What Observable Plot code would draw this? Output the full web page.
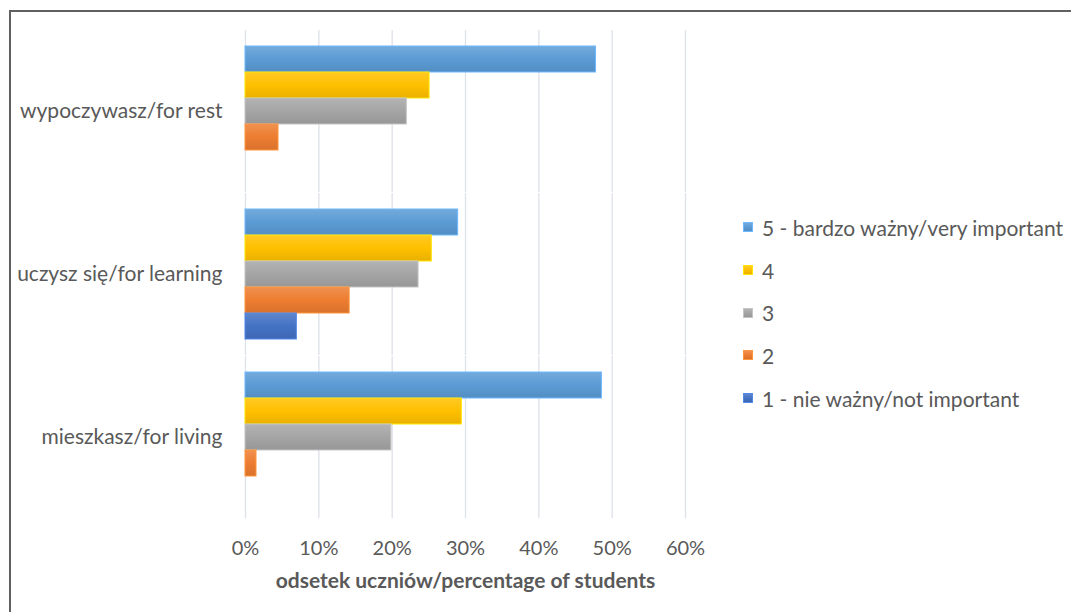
<!DOCTYPE html>
<html>
<head>
<meta charset="utf-8">
<script src="https://cdn.jsdelivr.net/npm/d3@7"></script>
<script src="https://cdn.jsdelivr.net/npm/@observablehq/plot@0.6"></script>
<style>
  html, body { margin: 0; padding: 0; background: #fff; }
  #wrap { position: relative; width: 1071px; height: 612px; overflow: hidden; font-family: Lato, "Open Sans", sans-serif; }
  #chart { position: absolute; left: 0; top: 0; }
  #frame { position: absolute; left: 9px; top: 10px; right: -4px; bottom: -4px; border-top: 2px solid #606060; border-left: 2px solid #606060; pointer-events: none; }
  #legend { position: absolute; left: 743px; top: 206px; color: #595959; font-size: 21px; }
  #legend .item { display: flex; align-items: center; height: 42.7px; }
  #legend .sw { width: 10px; height: 10px; margin-right: 9px; box-sizing: border-box; }
  [aria-label="x-axis label"] text { font-weight: bold; font-size: 21px; }
  [aria-label="fy-axis tick label"] text { font-size: 21px; }
</style>
</head>
<body>
<div id="wrap">
  <div id="chart"></div>
  <div id="legend"></div>
  <div id="frame"></div>
</div>
<script>
const categories = ["wypoczywasz/for rest", "uczysz się/for learning", "mieszkasz/for living"];
const series = ["5 - bardzo ważny/very important", "4", "3", "2", "1 - nie ważny/not important"];
const values5 = [47.8, 29.0, 48.6];
const values4 = [25.1, 25.4, 29.5];
const values3 = [22.0, 23.6, 19.9];
const values2 = [4.5, 14.2, 1.5];
const values1 = [0, 7.0, 0];
const ticks = [0, 10, 20, 30, 40, 50, 60];
const colors = ["#5b9bd5", "#ffc000", "#a5a5a5", "#ed7d31", "#4472c4"];
const xLabel = "odsetek uczniów/percentage of students";

const seriesValues = [values5, values4, values3, values2, values1];
const data = categories.flatMap((c, i) =>
  series.map((s, j) => ({category: c, series: s, key: j, value: seriesValues[j][i]}))
);

const plot = Plot.plot({
  width: 1071,
  height: 612,
  marginLeft: 245,
  marginRight: 386,
  marginTop: 43,
  marginBottom: 108,
  x: {domain: [0, 60]},
  y: {domain: series, axis: null, padding: 0},
  fy: {domain: categories, paddingInner: 0.18, paddingOuter: 0},
  color: {type: "identity"},
  style: {fontFamily: "Lato, 'Open Sans', sans-serif", fontSize: "20px", color: "#595959", background: "transparent"},
  marks: [
    Plot.ruleX(ticks, {x: d => d, stroke: "#dde1e8", strokeWidth: 1.3, insetTop: -14, insetBottom: -14}),
    Plot.barX(data.filter(d => d.value > 0), {
      x: "value", y: "series", fy: "category",
      fill: d => `url(#grad${d.key})`,
      stroke: d => d3.color(colors[d.key]).brighter(0.5).formatHex(),
      strokeWidth: 1
    }),
    Plot.axisX(ticks, {tickSize: 0, tickPadding: 36, tickFormat: d => d + "%", label: xLabel, labelAnchor: "center", labelArrow: "none", labelOffset: 83}),
    Plot.axisFy({anchor: "left", tickSize: 0, tickPadding: 23, label: null})
  ]
});

// gradient definitions for the Excel-like bar shading
const ns = "http://www.w3.org/2000/svg";
const defs = document.createElementNS(ns, "defs");
colors.forEach((c, i) => {
  const g = document.createElementNS(ns, "linearGradient");
  g.setAttribute("id", "grad" + i);
  g.setAttribute("x1", "0"); g.setAttribute("y1", "0");
  g.setAttribute("x2", "0"); g.setAttribute("y2", "1");
  const base = d3.color(c);
  const stops = [[0, d3.interpolateRgb(c, "#ffffff")(0.15)], [0.5, base.formatHex()], [1, base.darker(0.25).formatHex()]];
  stops.forEach(([o, col]) => {
    const st = document.createElementNS(ns, "stop");
    st.setAttribute("offset", o);
    st.setAttribute("stop-color", col);
    g.appendChild(st);
  });
  defs.appendChild(g);
});
plot.insertBefore(defs, plot.firstChild);
document.getElementById("chart").appendChild(plot);

// legend
const legend = document.getElementById("legend");
series.forEach((s, i) => {
  const item = document.createElement("div");
  item.className = "item";
  const sw = document.createElement("span");
  sw.className = "sw";
  sw.style.background = `linear-gradient(${d3.interpolateRgb(colors[i], "#ffffff")(0.15)}, ${colors[i]}, ${d3.color(colors[i]).darker(0.25).formatHex()})`;
  sw.style.border = "1px solid " + d3.color(colors[i]).brighter(0.5).formatHex();
  const t = document.createElement("span");
  t.textContent = s;
  item.appendChild(sw);
  item.appendChild(t);
  legend.appendChild(item);
});
</script>
</body>
</html>
